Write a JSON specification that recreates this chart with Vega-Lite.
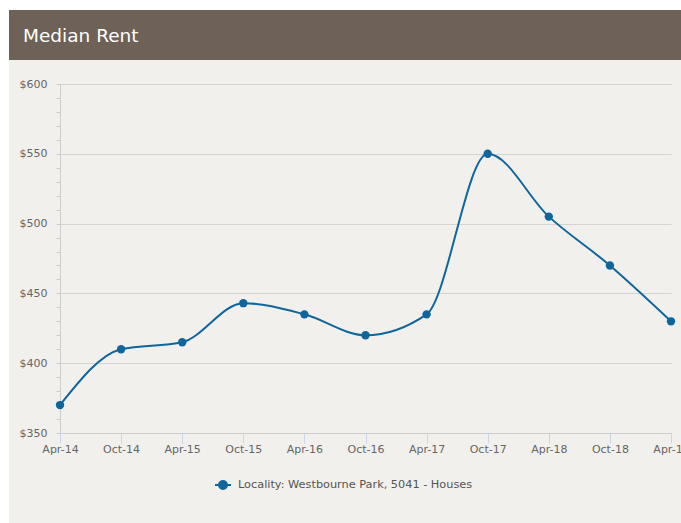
{
  "$schema": "https://vega.github.io/schema/vega-lite/v6.json",
  "background": "#f1f0ec",
  "padding": 0,
  "autosize": {"type": "pad"},
  "spacing": 0,
  "config": {
    "view": {"stroke": null},
    "font": "DejaVu Sans",
    "axis": {"labelFont": "DejaVu Sans", "labelFontSize": 11, "labelColor": "#666666"},
    "legend": {"labelFont": "DejaVu Sans"},
    "title": {"font": "DejaVu Sans"}
  },
  "vconcat": [
    {
      "data": {"values": []},
      "mark": "point",
      "width": 681,
      "height": 10,
      "view": {"fill": "white", "stroke": null}
    },
    {
      "spacing": 0,
      "hconcat": [
        {
          "data": {"values": []},
          "mark": "point",
          "width": 9,
          "height": 513,
          "view": {"fill": "white", "stroke": null}
        },
        {
          "spacing": 18,
          "vconcat": [
            {
              "data": {"values": []},
              "mark": "point",
              "width": 672,
              "height": 50,
              "view": {"fill": "#6e6157", "stroke": null},
              "title": {
                "text": "Median Rent",
                "anchor": "start",
                "frame": "group",
                "orient": "top",
                "offset": -50,
                "baseline": "alphabetic",
                "dx": 14,
                "fontSize": 18.5,
                "fontWeight": "normal",
                "color": "#ffffff"
              }
            },
            {
              "spacing": 0,
              "hconcat": [
                {
                  "data": {"values": []},
                  "mark": "point",
                  "width": 1,
                  "height": 1
                },
                {
                  "width": 611,
                  "height": 349,
                  "data": {
                    "values": [
                      {"period": "Apr-14", "rent": 370, "series": "Locality: Westbourne Park, 5041 - Houses"},
                      {"period": "Oct-14", "rent": 410, "series": "Locality: Westbourne Park, 5041 - Houses"},
                      {"period": "Apr-15", "rent": 415, "series": "Locality: Westbourne Park, 5041 - Houses"},
                      {"period": "Oct-15", "rent": 443, "series": "Locality: Westbourne Park, 5041 - Houses"},
                      {"period": "Apr-16", "rent": 435, "series": "Locality: Westbourne Park, 5041 - Houses"},
                      {"period": "Oct-16", "rent": 420, "series": "Locality: Westbourne Park, 5041 - Houses"},
                      {"period": "Apr-17", "rent": 435, "series": "Locality: Westbourne Park, 5041 - Houses"},
                      {"period": "Oct-17", "rent": 550, "series": "Locality: Westbourne Park, 5041 - Houses"},
                      {"period": "Apr-18", "rent": 505, "series": "Locality: Westbourne Park, 5041 - Houses"},
                      {"period": "Oct-18", "rent": 470, "series": "Locality: Westbourne Park, 5041 - Houses"},
                      {"period": "Apr-19", "rent": 430, "series": "Locality: Westbourne Park, 5041 - Houses"}
                    ]
                  },
                  "encoding": {
                    "x": {
                      "field": "period",
                      "type": "ordinal",
                      "sort": null,
                      "scale": {"type": "point", "padding": 0},
                      "axis": {
                        "title": null,
                        "labelAngle": 0,
                        "tickSize": 10,
                        "tickColor": "#ccd6eb",
                        "domainColor": "#cccccc",
                        "labelPadding": 0,
                        "grid": false,
                        "labelFontSize": 11,
                        "labelColor": "#666666"
                      }
                    },
                    "y": {
                      "field": "rent",
                      "type": "quantitative",
                      "scale": {"domain": [350, 600], "nice": false, "zero": false},
                      "axis": {
                        "title": null,
                        "values": [350, 360, 370, 380, 390, 400, 410, 420, 430, 440, 450, 460, 470, 480, 490, 500, 510, 520, 530, 540, 550, 560, 570, 580, 590, 600],
                        "labelExpr": "datum.value % 50 === 0 ? '$' + datum.value : ''",
                        "labelOverlap": false,
                        "grid": true,
                        "gridColor": {"condition": {"test": "datum.value % 50 === 0", "value": "#d4d4d4"}, "value": "rgba(0,0,0,0)"},
                        "tickSize": 4,
                        "tickColor": "#cccccc",
                        "domainColor": "#cccccc",
                        "labelPadding": 9,
                        "minExtent": 50,
                        "labelFontSize": 11,
                        "labelColor": "#666666"
                      }
                    },
                    "color": {
                      "field": "series",
                      "type": "nominal",
                      "scale": {"range": ["#0f669c"]},
                      "legend": {
                        "title": null,
                        "orient": "none",
                        "legendX": 214,
                        "legendY": 476,
                        "symbolType": "M-1,0L1,0M0.5,0A0.5,0.5,0,1,1,-0.5,0A0.5,0.5,0,1,1,0.5,0Z",
                        "symbolSize": 256,
                        "symbolStrokeWidth": 2,
                        "symbolFillColor": "#0f669c",
                        "symbolStrokeColor": "#0f669c",
                        "labelFontSize": 11.3,
                        "labelColor": "#555555",
                        "labelLimit": 400,
                        "labelOffset": 6
                      }
                    }
                  },
                  "layer": [
                    {"mark": {"type": "line", "interpolate": "monotone", "strokeWidth": 2}},
                    {"mark": {"type": "circle", "size": 70, "opacity": 1}}
                  ]
                }
              ]
            }
          ]
        }
      ]
    }
  ]
}
